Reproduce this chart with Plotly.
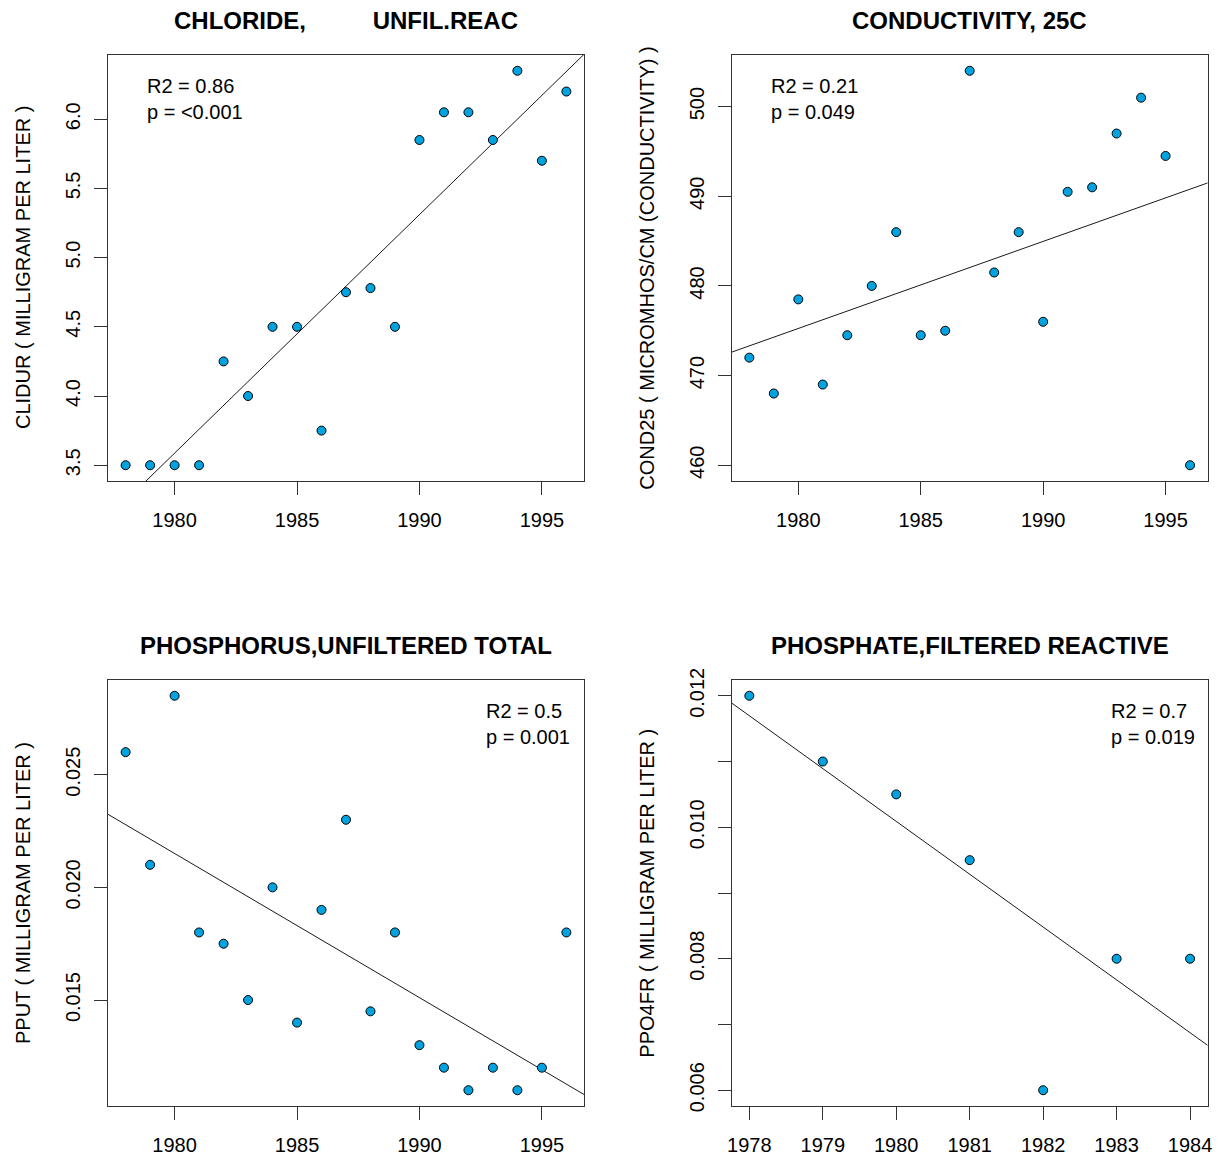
import numpy as np
import plotly.graph_objects as go

# ---------------- data ----------------
years = [1978, 1979, 1980, 1981, 1982, 1983, 1984, 1985, 1986, 1987,
         1988, 1989, 1990, 1991, 1992, 1993, 1994, 1995, 1996]
chloride = [3.5, 3.5, 3.5, 3.5, 4.25, 4.0, 4.5, 4.5, 3.75, 4.75,
            4.78, 4.5, 5.85, 6.05, 6.05, 5.85, 6.35, 5.7, 6.2]
conductivity = [472, 468, 478.5, 469, 474.5, 480, 486, 474.5, 475, 504,
                481.5, 486, 476, 490.5, 491, 497, 501, 494.5, 460]
phosphorus = [0.026, 0.021, 0.0285, 0.018, 0.0175, 0.015, 0.020, 0.014, 0.019, 0.023,
              0.0145, 0.018, 0.013, 0.012, 0.011, 0.012, 0.011, 0.012, 0.018]
years_po4 = [1978, 1979, 1980, 1981, 1982, 1983, 1984]
phosphate = [0.012, 0.011, 0.0105, 0.0095, 0.006, 0.008, 0.008]

titles = ["CHLORIDE,\u00a0\u00a0\u00a0\u00a0\u00a0\u00a0\u00a0\u00a0\u00a0\u00a0UNFIL.REAC",
          "CONDUCTIVITY, 25C",
          "PHOSPHORUS,UNFILTERED TOTAL",
          "PHOSPHATE,FILTERED REACTIVE"]
ytitles = ["CLIDUR ( MILLIGRAM PER LITER )",
           "COND25 ( MICROMHOS/CM (CONDUCTIVITY) )",
           "PPUT ( MILLIGRAM PER LITER )",
           "PPO4FR ( MILLIGRAM PER LITER )"]
r2_labels = ["R2 = 0.86", "R2 = 0.21", "R2 = 0.5", "R2 = 0.7"]
p_labels = ["p = <0.001", "p = 0.049", "p = 0.001", "p = 0.019"]

xticks_long = [1980, 1985, 1990, 1995]
xticks_short = [1978, 1979, 1980, 1981, 1982, 1983, 1984]
yticks = [
    ([3.5, 4.0, 4.5, 5.0, 5.5, 6.0], ["3.5", "4.0", "4.5", "5.0", "5.5", "6.0"]),
    ([460, 470, 480, 490, 500], ["460", "470", "480", "490", "500"]),
    ([0.015, 0.020, 0.025], ["0.015", "0.020", "0.025"]),
    ([0.006, 0.007, 0.008, 0.009, 0.010, 0.011, 0.012],
     ["0.006", "", "0.008", "", "0.010", "", "0.012"]),
]

# ---------------- layout geometry ----------------
W, H = 1221, 1160
FONT = "Liberation Sans, Arial, Helvetica, sans-serif"
MARKER = "#00A3E0"
FRAME = "#333333"

# plot boxes in pixels: (left, right, top, bottom)
boxes = [(108, 584, 55, 481), (731.7, 1207.7, 55, 481),
         (108, 584, 680, 1106), (731.7, 1207.7, 680, 1106)]
legend_pos = ["left", "left", "right", "right"]
legend_x = [145, 769, 572, 1197]

panels = [(years, chloride), (years, conductivity), (years, phosphorus), (years_po4, phosphate)]


def rrange(v):
    lo, hi = min(v), max(v)
    d = hi - lo
    return [lo - 0.04 * d, hi + 0.04 * d]


fig = go.Figure()
annotations = []
for i, (xs, ys) in enumerate(panels):
    n = "" if i == 0 else str(i + 1)
    xa, ya = "x" + n, "y" + n
    l, r, t, b = boxes[i]
    xr = rrange(xs)
    yr = rrange(ys)

    # regression line (abline across the plot region)
    slope, icpt = np.polyfit(np.array(xs, float), np.array(ys, float), 1)
    lx = np.array(xr)
    fig.add_trace(go.Scatter(x=lx, y=icpt + slope * lx, mode="lines",
                             line=dict(color="#1a1a1a", width=1),
                             xaxis=xa, yaxis=ya, showlegend=False, hoverinfo="skip"))
    fig.add_trace(go.Scatter(x=xs, y=ys, mode="markers",
                             marker=dict(size=9, color=MARKER,
                                         line=dict(color="#000000", width=1)),
                             xaxis=xa, yaxis=ya, showlegend=False))

    xt = xticks_long if i < 3 else xticks_short
    common = dict(showgrid=False, zeroline=False, showline=True, mirror=True,
                  automargin=False,
                  linecolor=FRAME, linewidth=1, ticks="outside", ticklen=13,
                  tickcolor=FRAME, tickwidth=1,
                  tickfont=dict(family=FONT, size=20, color="#000000"))
    fig.layout["xaxis" + n] = dict(
        domain=[l / W, r / W], range=xr, anchor=ya,
        tickvals=xt, ticktext=[str(v) for v in xt], ticklabelstandoff=8, **common)
    fig.layout["yaxis" + n] = dict(
        domain=[1 - b / H, 1 - t / H], range=yr, anchor=xa,
        tickvals=yticks[i][0], ticktext=yticks[i][1], tickangle=-90,
        ticklabelstandoff=6, **common)

    cx = (l + r) / 2
    annotations.append(dict(text="<b>" + titles[i] + "</b>", x=cx / W, y=1 - (t - 35) / H,
                            xref="paper", yref="paper", showarrow=False,
                            xanchor="center", yanchor="middle",
                            font=dict(family=FONT, size=24, color="#000000")))
    annotations.append(dict(text=ytitles[i], x=(l - 85) / W, y=1 - ((t + b) / 2) / H,
                            xref="paper", yref="paper", showarrow=False, textangle=-90,
                            xanchor="center", yanchor="middle",
                            font=dict(family=FONT, size=20, color="#000000")))
    annotations.append(dict(text=r2_labels[i] + "<br>" + p_labels[i],
                            x=legend_x[i] / W, y=1 - (t + 18) / H,
                            xref="paper", yref="paper", showarrow=False,
                            xanchor=legend_pos[i], yanchor="top", align="left",
                            font=dict(family=FONT, size=20, color="#000000")))

fig.update_layout(width=W, height=H, margin=dict(l=0, r=0, t=0, b=0, pad=0, autoexpand=False),
                  paper_bgcolor="white", plot_bgcolor="white",
                  annotations=annotations, showlegend=False)

fig.write_html("out.html", config={"displayModeBar": False},
               post_script="document.body.style.margin='0px';"
                           "document.body.style.overflow='hidden';")
